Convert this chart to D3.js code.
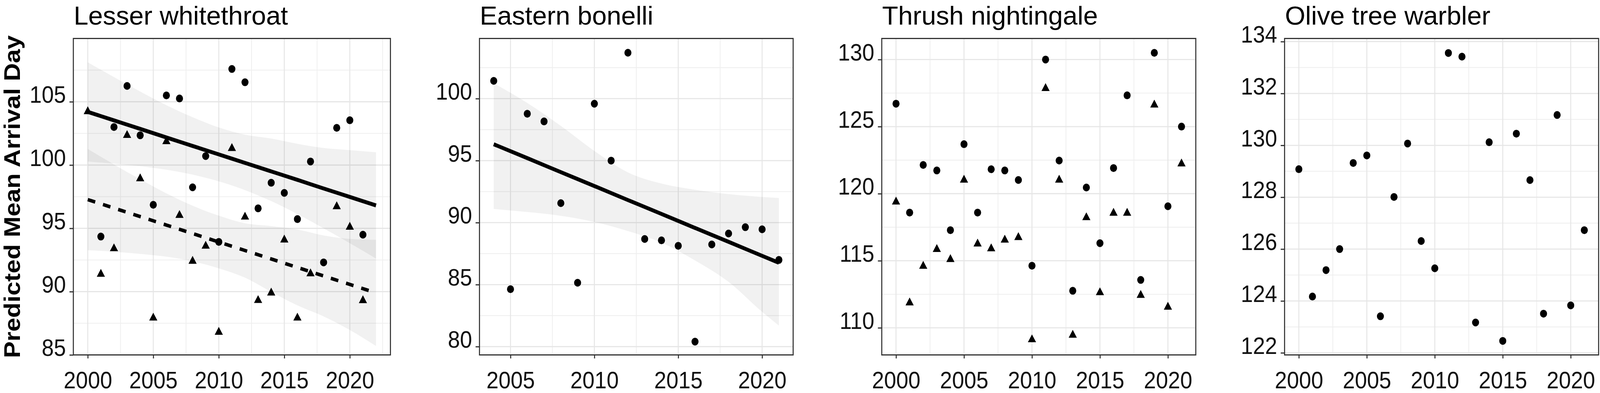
<!DOCTYPE html>
<html><head><meta charset="utf-8">
<script src="https://cdn.jsdelivr.net/npm/d3@7"></script>
<style>
html,body{margin:0;padding:0;background:#fff;overflow:hidden}
svg{display:block}
text{font-family:"Liberation Sans", Arial, sans-serif}
</style>
</head><body>
<svg id="chart"></svg>
<script>
// ---------------- DATA ----------------
const titles = ["Lesser whitethroat", "Eastern bonelli", "Thrush nightingale", "Olive tree warbler"];
const yAxisTitle = "Predicted Mean Arrival Day";

const xTicks1 = [2000, 2005, 2010, 2015, 2020];
const xTicks2 = [2005, 2010, 2015, 2020];
const xTicks3 = [2000, 2005, 2010, 2015, 2020];
const xTicks4 = [2000, 2005, 2010, 2015, 2020];
const yTicks1 = [85, 90, 95, 100, 105];
const yTicks2 = [80, 85, 90, 95, 100];
const yTicks3 = [110, 115, 120, 125, 130];
const yTicks4 = [122, 124, 126, 128, 130, 132, 134];

const xDomain1 = [1998.9, 2023.1];
const xDomain2 = [2003.15, 2021.85];
const xDomain3 = [1998.95, 2022.05];
const xDomain4 = [1998.95, 2022.05];
const yDomain1 = [85, 110];
const yDomain2 = [79.33, 104.85];
const yDomain3 = [107.98, 131.57];
const yDomain4 = [121.92, 134.12];

// Lesser whitethroat
const lwCircleYears = [2001,2002,2003,2004,2005,2006,2007,2008,2009,2010,2011,2012,2013,2014,2015,2016,2017,2018,2019,2020,2021];
const lwCircleValues = [94.35,103.0,106.25,102.35,96.86,105.5,105.26,98.24,100.71,93.93,107.59,106.54,96.58,98.6,97.8,95.73,100.28,92.31,102.94,103.54,94.5];
const lwTriangleYears = [2000,2001,2002,2003,2004,2005,2006,2007,2008,2009,2010,2011,2012,2013,2014,2015,2016,2017,2019,2020,2021];
const lwTriangleValues = [104.23,91.38,93.4,102.35,98.93,87.92,101.86,96.03,92.41,93.6,86.8,101.32,95.9,89.31,89.9,94.09,87.92,91.42,96.72,95.1,89.3];
const lwFitYears = [2000,2002,2004,2006,2008,2010,2012,2014,2016,2018,2020,2022];
const lwSolidFit = [104.2,103.53,102.86,102.18,101.51,100.84,100.17,99.5,98.83,98.15,97.48,96.81];
const lwSolidHi  = [108.12,106.95,105.81,104.73,103.78,102.97,102.4,102.1,101.68,101.35,101.18,101.01];
const lwSolidLo  = [100.28,100.11,99.91,99.63,99.24,98.71,98.02,97.15,96.13,95.0,93.83,92.61];
const lwDashFit  = [97.27,96.6,95.93,95.26,94.59,93.92,93.25,92.58,91.91,91.24,90.57,89.9];
const lwDashHi   = [101.27,100.05,98.88,97.76,96.79,96.0,95.4,95.18,94.91,94.44,94.17,94.1];
const lwDashLo   = [93.27,93.15,92.98,92.76,92.39,91.84,91.1,89.98,88.91,88.04,86.97,85.7];

// Eastern bonelli
const ebCircleYears = [2004,2005,2006,2007,2008,2009,2010,2011,2012,2013,2014,2015,2016,2017,2018,2019,2020,2021];
const ebCircleValues = [101.43,84.63,98.78,98.16,91.57,85.15,99.59,95.0,103.7,88.68,88.57,88.13,80.4,88.24,89.12,89.63,89.46,86.99];
const ebFitYears = [2004,2006,2008,2010,2012,2014,2016,2018,2020,2021];
const ebFit = [96.32,95.2,94.07,92.95,91.82,90.7,89.57,88.45,87.32,86.76];
const ebHi  = [101.25,99.65,97.8,95.78,94.05,93.15,92.65,92.3,92.07,91.99];
const ebLo  = [91.1,90.85,90.55,90.05,89.32,88.39,86.95,85.22,82.8,81.69];

// Thrush nightingale
const tnYears = [2000,2001,2002,2003,2004,2005,2006,2007,2008,2009,2010,2011,2012,2013,2014,2015,2016,2017,2018,2019,2020,2021];
const tnCircleValues = [126.71,118.59,122.14,121.73,117.28,123.69,118.59,121.82,121.73,121.02,114.63,130.0,122.47,112.76,120.46,116.31,121.91,127.33,113.57,130.5,119.06,125.0];
const tnTriangleValues = [119.39,111.87,114.6,115.85,115.1,121.02,116.26,115.9,116.55,116.74,109.12,127.85,121.02,109.46,118.22,112.63,118.55,118.55,112.43,126.62,111.55,122.23];

// Olive tree warbler
const otYears = [2000,2001,2002,2003,2004,2005,2006,2007,2008,2009,2010,2011,2012,2013,2014,2015,2016,2017,2018,2019,2020,2021];
const otCircleValues = [129.08,124.17,125.19,126.0,129.32,129.61,123.41,128.01,130.07,126.31,125.26,133.56,133.42,123.17,130.12,122.46,130.45,128.66,123.51,131.17,123.83,126.73];

// ---------------- LAYOUT / STYLE ----------------
const W = 4550, H = 1006;
const boxLeft = [208.6, 1363.5, 2507.5, 3653];
const boxRight = [1110.3, 2255.5, 3400.5, 4546];
const boxTop = 98.5, boxBottom = 908.5;
const tickFont = 62, titleFont = 66, titleStretch = 1.13;

const zip = (xs, ys) => xs.map((x, i) => ({x, y: ys[i]}));
const zip3 = (xs, lo, hi) => xs.map((x, i) => ({x, lo: lo[i], hi: hi[i]}));

const panels = [
  { title: titles[0], xd: xDomain1, yd: yDomain1, xt: xTicks1, yt: yTicks1,
    circles: zip(lwCircleYears, lwCircleValues), triangles: zip(lwTriangleYears, lwTriangleValues),
    ribbons: [zip3(lwFitYears, lwSolidLo, lwSolidHi), zip3(lwFitYears, lwDashLo, lwDashHi)],
    fits: [{pts: zip(lwFitYears, lwSolidFit), dash: null}, {pts: zip(lwFitYears, lwDashFit), dash: "22 23"}] },
  { title: titles[1], xd: xDomain2, yd: yDomain2, xt: xTicks2, yt: yTicks2,
    circles: zip(ebCircleYears, ebCircleValues), triangles: [],
    ribbons: [zip3(ebFitYears, ebLo, ebHi)],
    fits: [{pts: zip(ebFitYears, ebFit), dash: null}] },
  { title: titles[2], xd: xDomain3, yd: yDomain3, xt: xTicks3, yt: yTicks3,
    circles: zip(tnYears, tnCircleValues), triangles: zip(tnYears, tnTriangleValues),
    ribbons: [], fits: [] },
  { title: titles[3], xd: xDomain4, yd: yDomain4, xt: xTicks4, yt: yTicks4,
    circles: zip(otYears, otCircleValues), triangles: [],
    ribbons: [], fits: [] }
];

// fit the 4550x1006 drawing into whatever viewport the page gets
const vw = window.innerWidth || W, vh = window.innerHeight || H;
const svg = d3.select("#chart")
  .attr("width", vw).attr("height", vh)
  .attr("viewBox", `0 0 ${W} ${H}`).attr("preserveAspectRatio", "none");
svg.append("rect").attr("width", W).attr("height", H).attr("fill", "#fff");

function minors(ticks, domain) {
  const step = ticks[1] - ticks[0];
  const out = [];
  for (let i = -1; i < ticks.length; i++) {
    const m = ticks[0] + (i + 0.5) * step;
    if (m > domain[0] && m < domain[1]) out.push(m);
  }
  return out;
}

panels.forEach((p, i) => {
  const L = boxLeft[i], R = boxRight[i];
  const x = d3.scaleLinear().domain(p.xd).range([L, R]);
  const y = d3.scaleLinear().domain(p.yd).range([boxBottom, boxTop]);
  const g = svg.append("g");

  const clipId = "clip" + i;
  svg.append("clipPath").attr("id", clipId).append("rect")
    .attr("x", L).attr("y", boxTop).attr("width", R - L).attr("height", boxBottom - boxTop);
  const plot = g.append("g").attr("clip-path", `url(#${clipId})`);

  // grid
  const grid = plot.append("g");
  minors(p.xt, p.xd).forEach(v => grid.append("line")
    .attr("x1", x(v)).attr("x2", x(v)).attr("y1", boxTop).attr("y2", boxBottom)
    .attr("stroke", "#efefef").attr("stroke-width", 2.2));
  minors(p.yt, p.yd).forEach(v => grid.append("line")
    .attr("y1", y(v)).attr("y2", y(v)).attr("x1", L).attr("x2", R)
    .attr("stroke", "#efefef").attr("stroke-width", 2.2));
  p.xt.forEach(v => grid.append("line")
    .attr("x1", x(v)).attr("x2", x(v)).attr("y1", boxTop).attr("y2", boxBottom)
    .attr("stroke", "#e6e6e6").attr("stroke-width", 2.8));
  p.yt.forEach(v => grid.append("line")
    .attr("y1", y(v)).attr("y2", y(v)).attr("x1", L).attr("x2", R)
    .attr("stroke", "#e6e6e6").attr("stroke-width", 2.8));

  // ribbons
  const area = d3.area().x(d => x(d.x)).y0(d => y(d.lo)).y1(d => y(d.hi)).curve(d3.curveMonotoneX);
  p.ribbons.forEach(r => plot.append("path").attr("d", area(r))
    .attr("fill", "#000").attr("fill-opacity", 0.055));

  // points
  plot.append("g").selectAll("circle").data(p.circles).join("circle")
    .attr("cx", d => x(d.x)).attr("cy", d => y(d.y)).attr("r", 10).attr("fill", "#000");
  const tri = d3.symbol().type(d3.symbolTriangle).size(235);
  plot.append("g").selectAll("path").data(p.triangles).join("path")
    .attr("d", tri).attr("transform", d => `translate(${x(d.x)},${y(d.y)})`).attr("fill", "#000");

  // fits
  const line = d3.line().x(d => x(d.x)).y(d => y(d.y)).curve(d3.curveMonotoneX);
  p.fits.forEach(f => {
    const path = plot.append("path").attr("d", line(f.pts))
      .attr("fill", "none").attr("stroke", "#000")
      .attr("stroke-width", f.dash ? 9 : 10);
    if (f.dash) path.attr("stroke-dasharray", f.dash);
  });

  // border
  g.append("rect").attr("x", L).attr("y", boxTop).attr("width", R - L).attr("height", boxBottom - boxTop)
    .attr("fill", "none").attr("stroke", "#333").attr("stroke-width", 3);

  // y axis
  const ya = g.append("g").attr("transform", `translate(${L},0)`)
    .call(d3.axisLeft(y).tickValues(p.yt).tickSize(11).tickPadding(10).tickFormat(d3.format("d")));
  ya.select(".domain").remove();
  ya.selectAll(".tick line").attr("stroke", "#333").attr("stroke-width", 3);
  ya.selectAll(".tick text").attr("dy", 2).attr("font-size", tickFont).attr("fill", "#111")
    .attr("font-family", "Liberation Sans, Arial, sans-serif");

  // x axis
  const xa = g.append("g").attr("transform", `translate(0,${boxBottom})`)
    .call(d3.axisBottom(x).tickValues(p.xt).tickSize(9).tickFormat(d3.format("d")));
  xa.select(".domain").remove();
  xa.selectAll(".tick line").attr("stroke", "#333").attr("stroke-width", 3);
  xa.selectAll(".tick text").attr("y", 85.5).attr("dy", 0).attr("font-size", tickFont).attr("fill", "#111")
    .attr("font-family", "Liberation Sans, Arial, sans-serif");

  // title
  const t = g.append("text").attr("x", L + 1).attr("y", 63)
    .attr("font-size", titleFont).attr("fill", "#000").text(p.title);
  const natural = t.node().getComputedTextLength();
  t.attr("textLength", natural * titleStretch).attr("lengthAdjust", "spacingAndGlyphs");
});

// y-axis title
svg.append("text")
  .attr("transform", `translate(57,${(boxTop + boxBottom) / 2}) rotate(-90)`)
  .attr("text-anchor", "middle").attr("font-size", 64).attr("font-weight", "bold")
  .attr("fill", "#000").text(yAxisTitle);
</script>
</body></html>
